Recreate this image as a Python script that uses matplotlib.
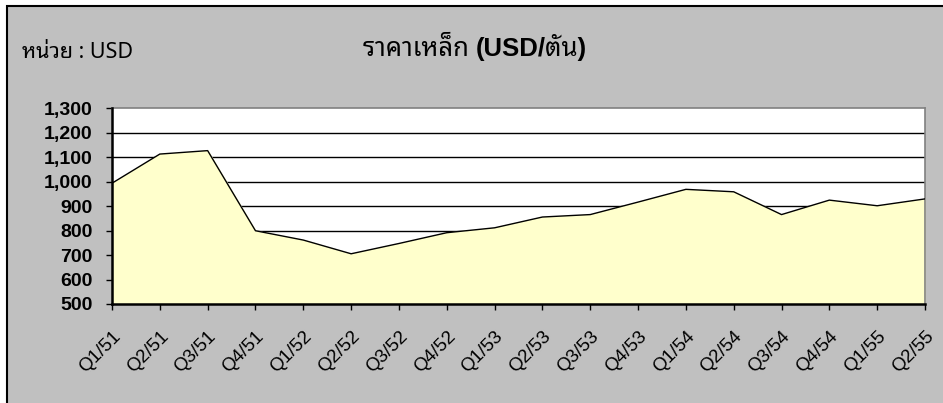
import matplotlib
matplotlib.use("Agg")
import matplotlib.pyplot as plt
from matplotlib.patches import Rectangle
import numpy as np

# quarterly steel price, USD per tonne
quarters = ["Q1/51", "Q2/51", "Q3/51", "Q4/51",
            "Q1/52", "Q2/52", "Q3/52", "Q4/52",
            "Q1/53", "Q2/53", "Q3/53", "Q4/53",
            "Q1/54", "Q2/54", "Q3/54", "Q4/54",
            "Q1/55", "Q2/55"]
prices = [993, 1112, 1126, 799,
          761, 705, 747, 791,
          811, 855, 865, 916,
          968, 958, 865, 924,
          901, 929]
yticks = [500, 600, 700, 800, 900, 1000, 1100, 1200, 1300]

W, H = 943, 403
THAI = ["Noto Sans Thai Looped", "Noto Sans"]
fig = plt.figure(figsize=(W / 100, H / 100), dpi=100)
fig.patch.set_facecolor("white")

# background axes: grey chart box whose right and bottom edges run off the picture
bg = fig.add_axes([0, 0, 1, 1], zorder=0)
bg.set_xlim(0, W)
bg.set_ylim(H, 0)
bg.axis("off")
bg.add_patch(Rectangle((7, 6), W + 20, H + 20, facecolor="#C0C0C0",
                       edgecolor="black", linewidth=1.5))

ax = fig.add_axes([112 / W, (H - 304) / H, (925 - 112) / W, (304 - 108) / H], zorder=2)
ax.set_facecolor("white")

x = np.arange(len(quarters))
ax.fill_between(x, prices, 500, color="#FFFFCC", zorder=2)
ax.plot(x, prices, color="black", linewidth=1.0, zorder=3)

ax.set_xlim(0, len(quarters) - 1)
ax.set_ylim(500, 1300)
ax.set_yticks(yticks)
ax.set_yticklabels([f"{v:,}" for v in yticks], fontsize=14, fontweight="bold",
                   family="Liberation Sans")
ax.set_xticks(x)
ax.set_xticklabels(quarters, rotation=45, ha="right", va="top",
                   rotation_mode="anchor", fontsize=13.5, family="Liberation Sans")
ax.tick_params(axis="x", direction="out", length=4, width=1, pad=13, colors="black")
ax.tick_params(axis="y", direction="out", length=4, width=1, pad=10, colors="black")

for v in yticks[1:-1]:
    ax.axhline(v, color="black", linewidth=1, zorder=1)

for side in ["left", "bottom"]:
    ax.spines[side].set_linewidth(1.8)
    ax.spines[side].set_zorder(4)
for side in ["top", "right"]:
    ax.spines[side].set_color("#808080")
    ax.spines[side].set_linewidth(1.2)

bg.text(22, 58, "หน่วย : USD", fontsize=15.5, va="baseline", ha="left", family=THAI)

t1 = bg.text(363, 56, "ราคาเหล็ก ", fontsize=18.5, va="baseline", ha="left", family=THAI)
fig.canvas.draw()
x_end = bg.transData.inverted().transform(t1.get_window_extent().p1)[0]
bg.text(x_end, 56, "(USD/ตัน)", fontsize=18.5, fontweight="bold", va="baseline", ha="left",
        family=["Liberation Sans", "Noto Sans Thai Looped"])

fig.savefig("out.png", dpi=100, facecolor=fig.get_facecolor())
